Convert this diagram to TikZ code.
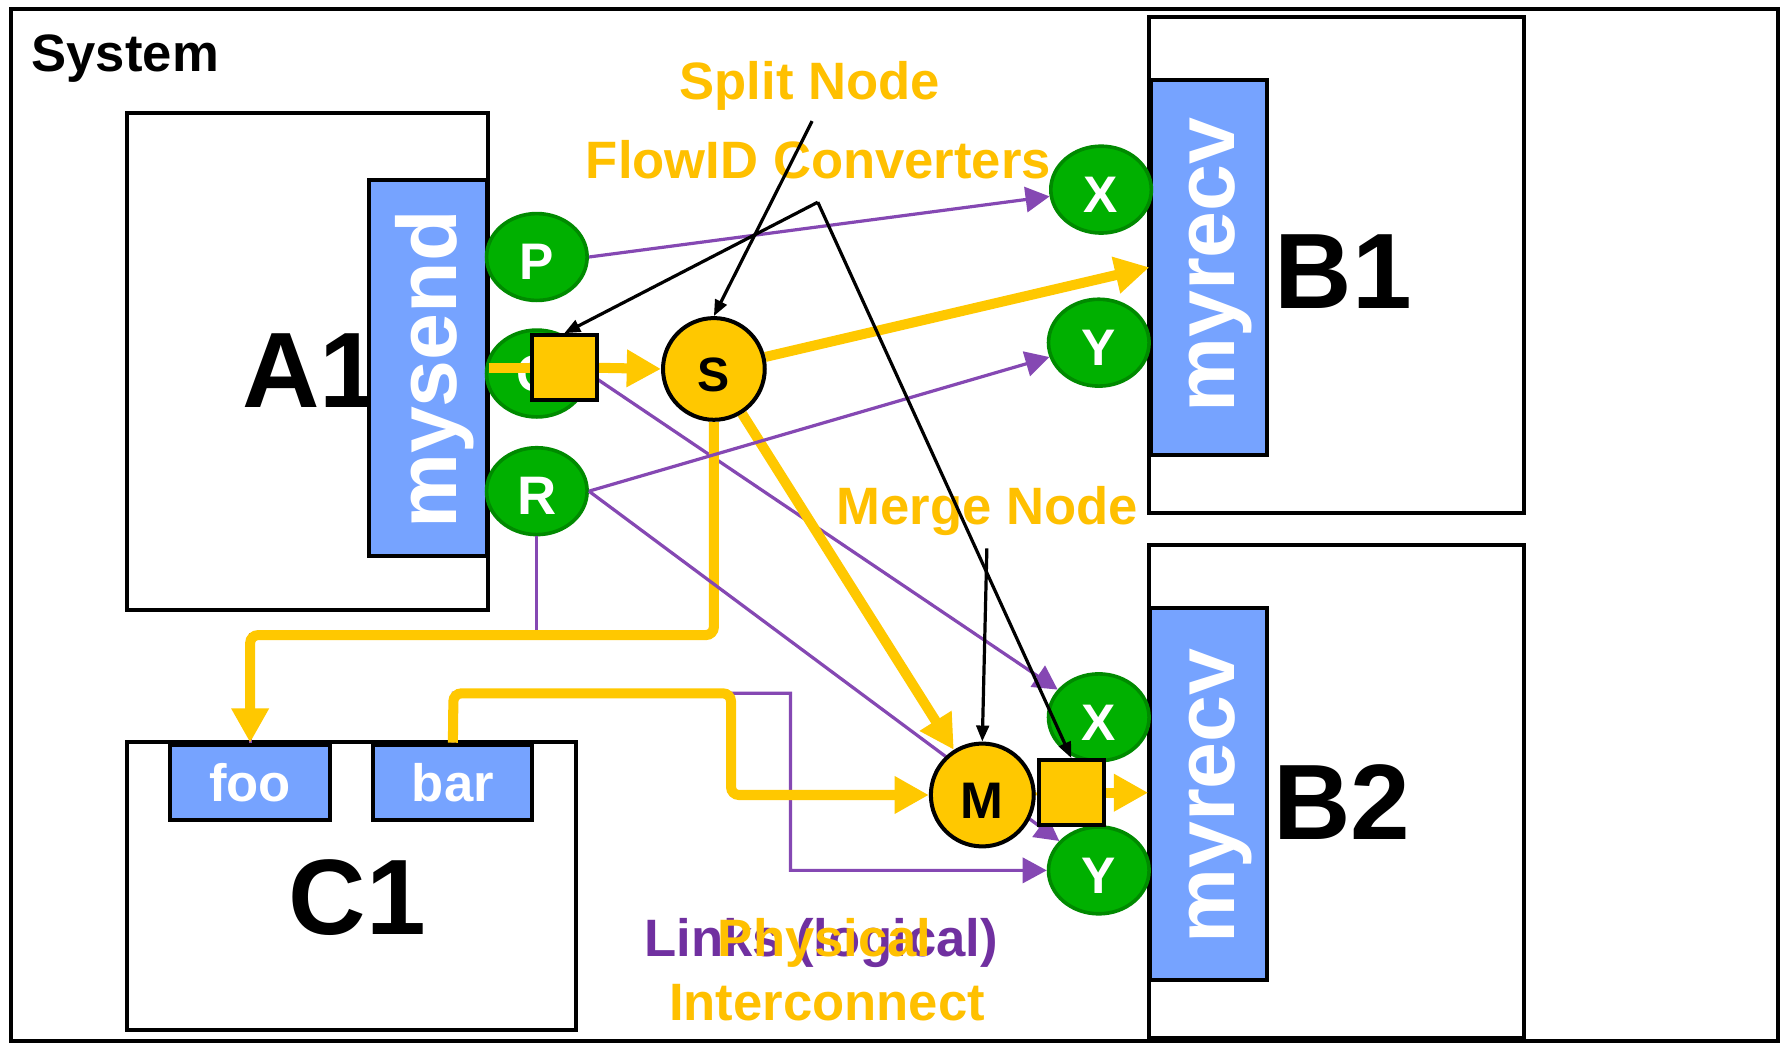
\documentclass[tikz,border=0pt]{standalone}
\usepackage{fontspec}
\setmainfont{Liberation Sans}
\usetikzlibrary{arrows.meta,shapes.geometric}
\pgfdeclarelayer{back}
\pgfdeclarelayer{links}
\pgfsetlayers{back,links,main}

\definecolor{gold}{HTML}{FFC800}
\definecolor{labelgold}{HTML}{FFC000}
\definecolor{portgreen}{HTML}{00B000}
\definecolor{portedge}{HTML}{008A00}
\definecolor{compblue}{HTML}{76A3FF}
\definecolor{linkpurple}{HTML}{8548B3}
\definecolor{textpurple}{HTML}{7030A0}

\tikzset{
  box/.style={draw=black, line width=1pt, fill=white, rectangle, inner sep=0pt},
  comp/.style={draw=black, line width=1pt, fill=compblue, rectangle, inner sep=0pt},
  port/.style={ellipse, draw=portedge, fill=portgreen, line width=0.9pt,
               minimum width=0.88cm, minimum height=0.76cm, inner sep=0pt},
  portletter/.style={text=white, inner sep=0pt, font=\fontsize{12.8}{14}\selectfont\bfseries},
  flownode/.style={circle, draw=black, fill=gold, line width=1pt, minimum size=0.89cm, inner sep=0pt},
  convbox/.style={rectangle, draw=black, fill=gold, line width=1pt, minimum size=0.57cm, inner sep=0pt},
  biglabel/.style={inner sep=0pt, anchor=base, font=\fontsize{26.7}{30}\selectfont\bfseries},
  vlabel/.style={inner sep=0pt, anchor=base, rotate=90, text=white, font=\fontsize{21}{24}\selectfont\bfseries},
  boxlabel/.style={text=white, font=\fontsize{13.1}{15}\selectfont\bfseries},
  note/.style={inner sep=0pt, anchor=base, text=labelgold, font=\fontsize{13.1}{15}\selectfont\bfseries},
  link/.style={draw=linkpurple, line width=0.8pt},
  linkarrow/.style={link, -{Triangle[length=2.1mm,width=2.2mm]}},
  phys/.style={draw=gold, line width=2.5pt},
  physarrow/.style={phys, -{Triangle[length=3mm,width=3.1mm]}},
  callout/.style={draw=black, line width=0.8pt, -{Triangle[length=1.4mm,width=1.1mm]}},
}

\begin{document}
\begin{tikzpicture}[x=0.01cm, y=-0.01cm, font=\bfseries]
\useasboundingbox (0,0) rectangle (1568,914);

\begin{pgfonlayer}{back}
  \fill[white] (0,0) rectangle (1568,914);
  % system frame
  \node[box, minimum width=15.46cm, minimum height=9.03cm] (system) at (783,459.5) {};
  \node[inner sep=0pt, anchor=base west, font=\fontsize{13.1}{15}\selectfont\bfseries] (systitle) at (27,62.5) {System};

  % component A1 with its sender
  \node[box, minimum width=3.16cm, minimum height=4.35cm] (A1) at (269,316.5) {};
  \node[biglabel] (A1lbl) at (272,357) {A1};
  \node[comp, minimum width=1.03cm, minimum height=3.29cm] (mysend) at (374.5,322.5) {};
  \node[vlabel] (mysendlbl) at (400,323.5) {mysend};

  % component B1 with its receiver
  \node[box, minimum width=3.28cm, minimum height=4.34cm] (B1) at (1170,232) {};
  \node[comp, minimum width=1.01cm, minimum height=3.28cm] (myrecv1) at (1058.5,234) {};
  \node[vlabel] (myrecv1lbl) at (1081,232) {myrecv};
  \node[biglabel] (B1lbl) at (1176,270) {B1};

  % component B2 with its receiver
  \node[box, minimum width=3.28cm, minimum height=4.32cm] (B2) at (1170,693) {};
  \node[comp, minimum width=1.02cm, minimum height=3.26cm] (myrecv2) at (1058,695) {};
  \node[vlabel] (myrecv2lbl) at (1081,697) {myrecv};
  \node[biglabel] (B2lbl) at (1175,735) {B2};

  % component C1 with ports foo and bar
  \node[box, minimum width=3.93cm, minimum height=2.52cm] (C1) at (307.5,776) {};
  \node[biglabel] (C1lbl) at (313,818) {C1};
  \node[comp, minimum width=1.40cm, minimum height=0.66cm, boxlabel] (foo) at (219,685) {foo};
  \node[comp, minimum width=1.39cm, minimum height=0.66cm, boxlabel] (bar) at (396.5,685) {bar};

  % ports
  \node[port] (P) at (470,225) {};
  \node[port] (Q) at (470,327) {};
  \node[port] (R) at (470,430) {};
  \node[port] (X1) at (964,166) {};
  \node[port] (Y1) at (962,300) {};
  \node[port] (X2) at (962,628) {};
  \node[port] (Y2) at (962,762) {};
  \path (P) ++(0,4.5) node[portletter] {P};
  \path (Q) ++(0,4.5) node[portletter] {Q};
  \path (R) ++(0,4.5) node[portletter, font=\fontsize{13.5}{15}\selectfont\bfseries] {R};
  \path (X1) ++(0,4.5) node[portletter] {X};
  \path (Y1) ++(0,4.5) node[portletter] {Y};
  \path (X2) ++(0,4.5) node[portletter] {X};
  \path (Y2) ++(0,4.5) node[portletter] {Y};
\end{pgfonlayer}

% split / merge nodes and flow-id converters
\node[flownode] (S) at (625,323) {};
\path (S) ++(0,5) node[inner sep=0pt, font=\fontsize{12}{13}\selectfont\bfseries] {S};
\node[flownode, minimum size=0.9cm] (M) at (860,696) {};
\path (M) ++(0,5) node[inner sep=0pt, font=\fontsize{12.8}{14}\selectfont\bfseries] {M};
\node[convbox] (Qsq) at (494,322) {};
\node[convbox] (Msq) at (938,694) {};

\begin{pgfonlayer}{links}
  % logical links running under the interconnect
  \draw[link] (R.south) -- (470,556) -- (219,556) -- (foo.north);
  \draw[linkarrow] (bar.north) -- (397,607) -- (692,607) -- (692,762) -- (Y2.west);
  \draw[linkarrow] (Q.east) -- (X2);

  % physical interconnect
  \draw[phys] (mysend.east |- Qsq.west) -- (Qsq.west);
  \draw[physarrow] (Qsq.east) -- (S.west);
  \draw[physarrow] (S) -- (myrecv1.west);
  \draw[physarrow] (S) -- (M);
  \draw[physarrow, rounded corners=2pt] (S.south) -- (625,556) -- (219,556) -- (foo.north);
  \draw[physarrow, rounded corners=2pt] (bar.north) -- (397,607) -- (640,607) -- (640,696) -- (M.west);
  \draw[phys] (M.east) -- (Msq.west);
  \draw[physarrow] (Msq.east) -- (myrecv2.west |- Msq.east);

  % logical links above the interconnect
  \draw[linkarrow] (P.east) -- (X1);
  \draw[linkarrow] (R.east) -- (Y1);
  \draw[linkarrow] (R.east) -- (Y2);
\end{pgfonlayer}

% annotations
\node[note] (splitlbl) at (709,87.5) {Split Node};
\node[note] (convlbl) at (716.5,156) {FlowID Converters};
\node[note] (mergelbl) at (864.5,459.5) {Merge Node};
\node[note, text=textpurple] (linkslbl) at (719,837.5) {Links (logical)};
\node[note] (physlbl) at (722,837.5) {Physical};
\node[note] (interlbl) at (724,893) {Interconnect};

\coordinate (splitTail) at (711,106);
\coordinate (convApex) at (716,177);
\coordinate (mergeTail) at (864,480);
\draw[callout] (splitTail) -- (S.north);
\draw[callout] (convApex) -- (Qsq.north);
\draw[callout] (convApex) -- (Msq.north);
\draw[callout] (mergeTail) -- (M.north);
\end{tikzpicture}
\end{document}
